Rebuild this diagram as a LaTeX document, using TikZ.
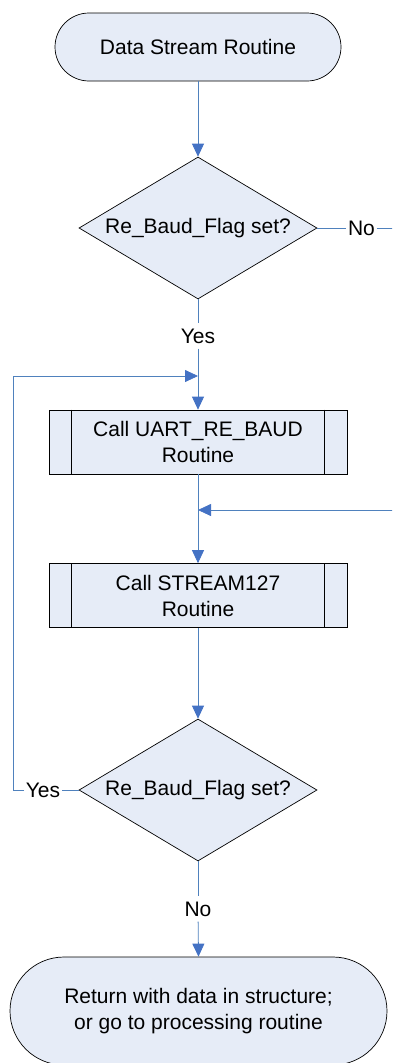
\documentclass[tikz,border=0pt]{standalone}
\usepackage{fontspec}
\setmainfont{Liberation Sans}
\usetikzlibrary{shapes.geometric,shapes.misc,arrows.meta}
\definecolor{shfill}{RGB}{230,236,247}
\definecolor{connc}{RGB}{79,129,189}
\definecolor{tipc}{RGB}{68,114,196}
\begin{document}
\begin{tikzpicture}[x=1pt,y=-1pt,
  every node/.style={font=\fontsize{21}{26}\selectfont},
  term/.style={rounded rectangle, draw=black, line width=0.7pt, fill=shfill, align=center, inner sep=0pt},
  dec/.style={diamond, draw=black, line width=0.7pt, fill=shfill, inner sep=0pt, minimum width=238pt, minimum height=142pt, aspect=1.676},
  sub/.style={rectangle, draw=black, line width=0.7pt, fill=shfill, align=center, minimum width=298pt, minimum height=64pt, inner sep=0pt},
  conn/.style={draw=connc, line width=0.8pt},
  arr/.style={conn, -{Triangle[length=13pt,width=12pt,color=tipc]}},
  lbl/.style={inner xsep=1.5pt, inner ysep=5pt}]
\clip (0,0) rectangle (392,1063);
\node[term, minimum width=286pt, minimum height=68pt] (t1) at (198,47) {Data Stream Routine};
\node[dec] (d1) at (198,228) {Re\_Baud\_Flag set?};
\node[sub] (b1) at (198,442) {Call UART\_RE\_BAUD\\Routine};
\node[sub] (b2) at (198,595.5) {Call STREAM127\\Routine};
\node[dec] (d2) at (198,790) {Re\_Baud\_Flag set?};
\node[term, minimum width=377pt, minimum height=108pt] (t2) at (198.5,1011) {Return with data in structure;\\or go to processing routine};
\foreach \b in {b1,b2}{
  \draw[line width=0.7pt] ([xshift=23pt]\b.north west) -- ([xshift=23pt]\b.south west);
  \draw[line width=0.7pt] ([xshift=-23pt]\b.north east) -- ([xshift=-23pt]\b.south east);
}
\node[lbl] (no1) at (361.5,228) {No};
\node[lbl] (yes1) at (198,336) {Yes};
\node[lbl] (yes2) at (43,790) {Yes};
\node[lbl] (no2) at (198,909) {No};
\coordinate (r1) at (397,228);
\coordinate (r2) at (397,510);
\coordinate (j2) at (198,510);
\coordinate (l1) at (13,790);
\coordinate (l2) at (13,376);
\coordinate (j1) at (198,376);
\draw[arr] (t1.south) -- (d1.north);
\draw[arr] (d1.east) -- (no1) -- (r1) -- (r2) -- (j2);
\draw[conn] (d1.south) -- (yes1);
\draw[arr] (yes1) -- (b1.north);
\draw[arr] (b1.south) -- (b2.north);
\draw[arr] (b2.south) -- (d2.north);
\draw[arr] (d2.west) -- (yes2) -- (l1) -- (l2) -- (j1);
\draw[conn] (d2.south) -- (no2);
\draw[arr] (no2) -- (t2.north);
\end{tikzpicture}
\end{document}
